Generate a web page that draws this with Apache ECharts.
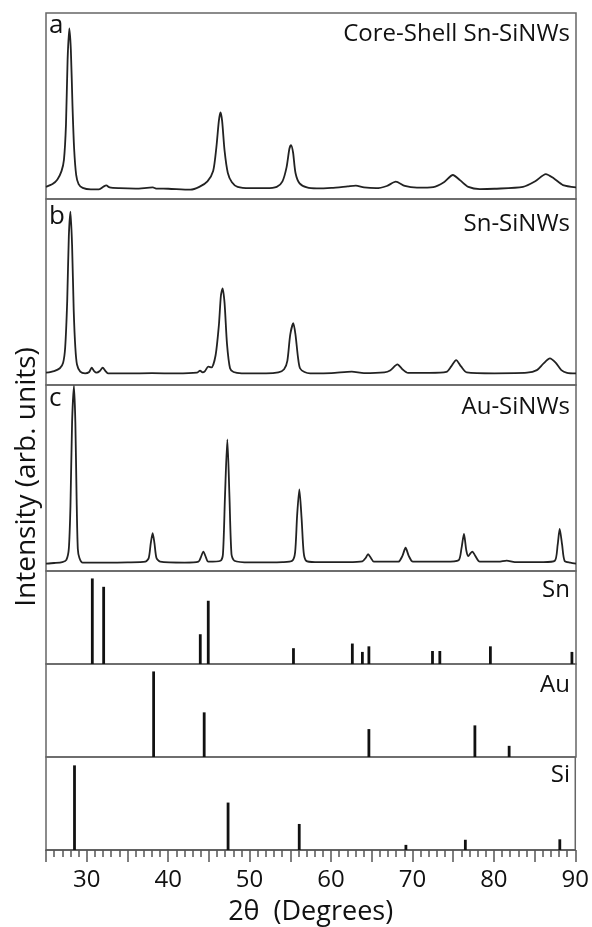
<!DOCTYPE html>
<html>
<head>
<meta charset="utf-8">
<script src="https://cdn.jsdelivr.net/npm/echarts@6/dist/echarts.min.js"></script>
<style>
  html, body { margin: 0; padding: 0; background: #fff; }
  #chart { width: 592px; height: 927px; }
</style>
</head>
<body>
<div id="chart"></div>
<script>
// XRD patterns, [2theta, intensity %]
var coreShellSnSi = [[25,6.5],[25.8,8],[26.4,10.5],[26.9,15],[27.2,21],[27.45,40],[27.65,75],[27.86,91.7],[28.05,80],[28.25,50],[28.45,27],[28.7,13],[29.0,8],[29.5,6],[30.5,5.2],[31.5,5.2],[32.1,6.8],[32.4,7.3],[32.8,6.2],[34,5.8],[36,5.6],[38.1,6.2],[38.5,5.6],[40,5.5],[42.7,5.0],[43.8,6.5],[44.8,9.5],[45.5,15],[45.9,28],[46.2,42],[46.4,46.6],[46.6,42],[46.9,26],[47.3,14],[47.8,9],[48.5,6.5],[50,5.8],[52,5.8],[53.3,6.5],[54.0,9.5],[54.5,17],[54.85,27],[55.05,29],[55.3,25],[55.6,14],[56.1,8.4],[57,6.2],[58.2,5.7],[60,6],[62,6.8],[63,7.2],[64,6.2],[65.5,5.8],[66.8,7],[67.9,9.3],[69,7],[70.5,6.1],[72.5,6.4],[73.8,9],[74.9,12.9],[75.8,10],[76.8,6.5],[78.2,5.3],[80,5.5],[83.5,6.5],[85.0,9.5],[86.3,13.4],[87.3,11],[88.4,7.5],[90,6.3]];
var snSi = [[25,6.6],[26,7.5],[26.7,9],[27.1,12],[27.35,20],[27.6,45],[27.8,80],[28.0,93.2],[28.2,75],[28.4,40],[28.6,20],[28.8,11],[29.2,7.2],[29.8,6.3],[30.3,7],[30.6,9.3],[30.9,7.5],[31.2,6.6],[31.6,7.5],[31.95,9.3],[32.3,7.5],[32.6,6.3],[35,6.2],[38,6.4],[41,6.2],[43.5,6.6],[43.9,7.7],[44.2,6.8],[44.5,7.5],[44.9,9.9],[45.3,9.5],[45.8,16],[46.2,32],[46.45,48],[46.66,52],[46.9,44],[47.2,22],[47.57,9],[48,7],[49,6.3],[52,6.2],[53.5,6.8],[54.2,8.5],[54.6,13],[54.95,27],[55.33,33.2],[55.6,27],[55.9,15],[56.15,9],[56.7,7],[57.4,6.3],[60,6.4],[62.5,7.2],[64,6.4],[66.5,6.8],[67.2,7.8],[68.1,11.1],[68.7,8.5],[69.4,6.5],[72,6.5],[74.1,7],[74.7,10],[75.3,13.4],[75.9,10],[76.6,6.8],[80,6.3],[84,6.6],[85.2,8],[86.0,11.5],[86.8,14.3],[87.5,12],[88.2,8],[88.9,6.5],[90,6.2]];
var auSi = [[25,4.0],[26,4.3],[27,4.8],[27.5,6],[27.8,12],[28.0,35],[28.2,80],[28.43,99.5],[28.6,80],[28.75,40],[28.9,12],[29.1,7],[29.5,4.5],[32,4.5],[35,4.6],[37.2,5],[37.6,7],[37.85,15],[38.08,20.3],[38.3,15],[38.55,7],[39,5],[42,4.5],[43.7,5],[44.0,7.5],[44.3,10.4],[44.6,7.5],[44.9,5],[46.4,5.5],[46.7,9],[46.95,40],[47.24,70.8],[47.5,40],[47.75,9],[48.1,5.5],[50,4.6],[54,4.8],[55.2,5.5],[55.55,10],[55.8,30],[56.07,43.9],[56.35,28],[56.6,10],[56.9,5.5],[58,4.8],[62,4.8],[63.8,5.2],[64.2,7],[64.5,9.1],[64.85,7],[65.2,5],[68.2,5],[68.7,8],[69.1,12.5],[69.5,8],[70,5],[74,5],[75.6,5.8],[75.95,12],[76.26,19.9],[76.55,11],[76.8,8],[77.05,9.5],[77.3,10.4],[77.6,8.5],[78.2,5],[80.5,5],[81.5,5.6],[82.5,4.8],[86,4.8],[87.4,5.5],[87.75,14],[88.0,22.6],[88.3,14],[88.6,5.5],[89.3,4.5],[90,4.0]];

// reference patterns (stick lines)
var snRef = [[30.68,92],[32.07,83],[43.92,32],[44.9,68],[55.35,17],[62.57,22],[63.8,13],[64.6,19],[72.4,14],[73.3,14],[79.5,19],[89.5,13]];
var auRef = [[38.2,92],[44.4,48],[64.6,30],[77.6,34],[81.8,12]];
var siRef = [[28.5,91],[47.36,51],[56.1,28],[69.2,5.5],[76.5,11],[88.1,11.5]];

var panelLetters = ['a', 'b', 'c', '', '', ''];
var panelNames = ['Core-Shell Sn-SiNWs', 'Sn-SiNWs', 'Au-SiNWs', 'Sn', 'Au', 'Si'];
var xTicks = [30, 40, 50, 60, 70, 80, 90];

var FONT = '"Open Sans", sans-serif';
var tops = [13, 199, 385, 571, 664, 757];
var heights = [186, 186, 186, 93, 93, 93];
var nameOffsets = [9, 13, 10, 7, 9, 6];
var letterOffsets = [0, 5, 1];

var chart = echarts.init(document.getElementById('chart'));

var grids = [], xAxes = [], yAxes = [], series = [], graphics = [];
var curves = [coreShellSnSi, snSi, auSi];
var sticks = [snRef, auRef, siRef];

for (var i = 0; i < 6; i++) {
  grids.push({
    left: 46, right: 16, top: tops[i], height: heights[i],
    show: true, borderColor: '#666', borderWidth: 1.5, backgroundColor: 'transparent'
  });
  var last = (i === 5);
  xAxes.push({
    type: 'value', gridIndex: i, min: 25, max: 90, interval: 5,
    show: last,
    axisLine: { show: true, lineStyle: { color: '#555', width: 1.5 } },
    axisTick: { show: true, length: 12, lineStyle: { color: '#555', width: 1.5 } },
    minorTick: { show: true, splitNumber: 5, length: 7, lineStyle: { color: '#555', width: 1.5 } },
    splitLine: { show: false },
    axisLabel: {
      color: '#111', fontFamily: FONT, fontSize: 24, margin: 18,
      formatter: function (v) { return xTicks.indexOf(v) >= 0 ? String(v) : ''; }
    },
    name: '2θ  (Degrees)', nameLocation: 'middle', nameGap: 49,
    nameTextStyle: { color: '#111', fontFamily: FONT, fontSize: 27 }
  });
  yAxes.push({ type: 'value', gridIndex: i, min: 0, max: 100, show: false });

  if (i < 3) {
    series.push({
      type: 'line', xAxisIndex: i, yAxisIndex: i, data: curves[i],
      showSymbol: false, smooth: 0.25, clip: true,
      lineStyle: { color: '#222', width: 1.8 }
    });
  } else {
    series.push({
      type: 'bar', xAxisIndex: i, yAxisIndex: i, data: sticks[i - 3],
      barWidth: 2.8, itemStyle: { color: '#111' }
    });
  }

  if (panelLetters[i]) {
    graphics.push({
      type: 'text', left: 49, top: tops[i] + letterOffsets[i],
      style: { text: panelLetters[i], font: '26px ' + FONT, fill: '#111' }
    });
  }
  graphics.push({
    type: 'text', right: 22, top: tops[i] + nameOffsets[i],
    style: { text: panelNames[i], font: '24px ' + FONT, fill: '#111' }
  });
}

graphics.push({
  type: 'text', x: 27, y: 477, rotation: Math.PI / 2,
  style: {
    text: 'Intensity (arb. units)', font: '28px ' + FONT, fill: '#111',
    align: 'center', verticalAlign: 'middle'
  }
});

chart.setOption({
  animation: false,
  backgroundColor: '#fff',
  grid: grids,
  xAxis: xAxes,
  yAxis: yAxes,
  series: series,
  graphic: graphics
});
</script>
</body>
</html>
